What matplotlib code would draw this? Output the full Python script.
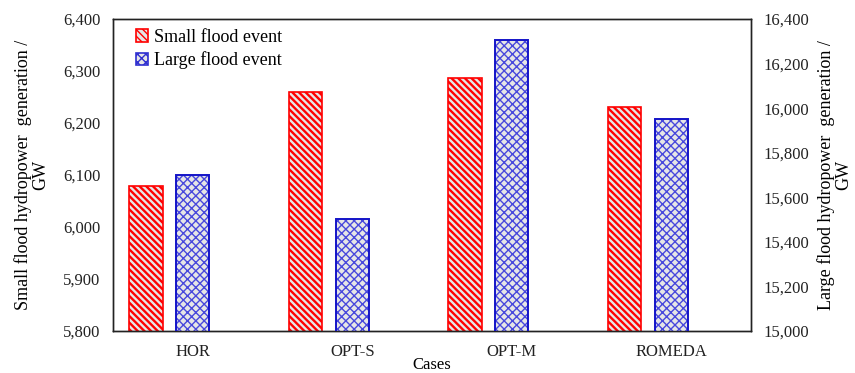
import matplotlib.pyplot as plt
import numpy as np

plt.rcParams['font.family'] = ['Liberation Serif', 'DejaVu Serif']

cases = ['HOR', 'OPT-S', 'OPT-M', 'ROMEDA']
small_flood = [6078, 6260, 6287, 6231]
large_flood = [15702, 15502, 16304, 15950]

x = np.arange(len(cases))
w = 0.21
off = 0.294

fig = plt.figure(figsize=(8.55, 3.73), dpi=100)
ax = fig.add_axes([113/855, 1 - 331/373, (751-113)/855, (331-19)/373])
ax2 = ax.twinx()

plt.rcParams['hatch.linewidth'] = 1.7
ax.bar(x - off, small_flood, w, color='#e6e6e6', edgecolor='red', hatch='\\' * 5,
       linewidth=1.2, label='Small flood event', zorder=2)
plt.rcParams['hatch.linewidth'] = 1.0
# dummy handle so both series share one legend
ax.bar([0], [0], 0, color='#e6e6e6', edgecolor='#3030d0', hatch='xxxx',
       linewidth=1.2, label='Large flood event')
ax2.bar(x, large_flood, w, color='#e6e6e6', edgecolor='#4848dc', hatch='xxxx',
        linewidth=0, zorder=2)
ax2.bar(x, large_flood, w, fill=False, edgecolor='#1414c8', linewidth=1.4, zorder=3)

ax.set_xlim(-0.5, 3.5)
ax.set_ylim(5800, 6400)
ax2.set_ylim(15000, 16400)
ax.set_yticks(np.arange(5800, 6401, 100))
ax2.set_yticks(np.arange(15000, 16401, 200))
ax.yaxis.set_major_formatter(plt.FuncFormatter(lambda v, p: f'{v:,.0f}'))
ax2.yaxis.set_major_formatter(plt.FuncFormatter(lambda v, p: f'{v:,.0f}'))
ax.set_xticks(x)
ax.set_xticklabels(cases)

for a in (ax, ax2):
    a.tick_params(length=0, labelsize=12, colors='#222222', pad=9)
    for s in a.spines.values():
        s.set_linewidth(1.0)
        s.set_color('#222222')
ax.tick_params(axis='x', pad=9)

ax.set_xlabel('Cases', fontsize=12, labelpad=-2)
ax.set_ylabel('Small flood hydropower  generation /\nGW', fontsize=13,
              linespacing=1.0, labelpad=10)
ax2.set_ylabel('Large flood hydropower  generation /\nGW', fontsize=13,
               linespacing=1.0, rotation=90, labelpad=6)

ax.legend(loc='upper left', frameon=False, fontsize=13, handlelength=0.7,
          handleheight=0.7, handletextpad=0.3, labelspacing=0.3,
          bbox_to_anchor=(0.01, 1.02))

fig.savefig('out.png', dpi=100)
